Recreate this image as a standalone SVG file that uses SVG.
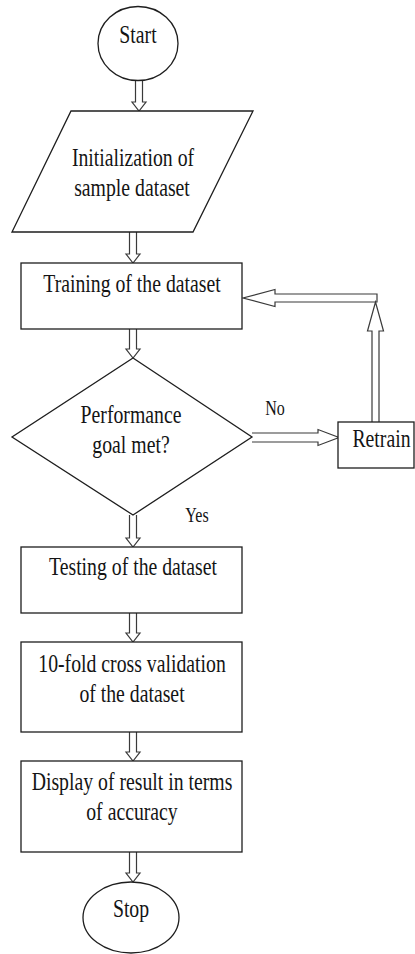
<svg xmlns="http://www.w3.org/2000/svg" width="415" height="954" viewBox="0 0 415 954">
  <style>
    .shape { fill: #ffffff; stroke: #1e1e1e; stroke-width: 1.3; }
    .conn { fill: #ffffff; stroke: #3a3a3a; stroke-width: 1.2; stroke-linejoin: miter; }
    .txt { font-family: "Liberation Serif", "Times New Roman", serif; font-size: 25px; fill: #141414; text-anchor: middle; }
    .lbl { font-family: "Liberation Serif", "Times New Roman", serif; font-size: 20px; fill: #141414; text-anchor: middle; }
  </style>
  <rect width="415" height="954" fill="#ffffff"/>

  <!-- hollow block arrows -->
  <g id="connectors">
    <path class="conn" d="M135.5,81 V102 H132 L139,111 L146,102 H142.5 V81"/>
    <path class="conn" d="M129.5,232 V254 H126 L133,263 L140,254 H136.5 V232"/>
    <path class="conn" d="M129.5,329 V349 H126 L133,358 L140,349 H136.5 V329"/>
    <path class="conn" d="M129.5,515 V538 H126 L133,547 L140,538 H136.5 V515"/>
    <path class="conn" d="M129.5,613 V633 H126 L133,642 L140,633 H136.5 V613"/>
    <path class="conn" d="M129.5,732 V752 H126 L133,761 L140,752 H136.5 V732"/>
    <path class="conn" d="M129.5,852 V873 H126 L133,882 L140,873 H136.5 V852"/>
    <!-- No branch to Retrain -->
    <path class="conn" d="M252,433 H318 V429.5 L339,437.5 L318,445.5 V442 H252"/>
    <!-- Retrain back up to Training -->
    <path class="conn" d="M377,302 V294 H275 V289.5 L243,298 L275,306.5 V302 Z"/>
    <path class="conn" d="M372,422 V331 H367.5 L375.5,302 L383.5,331 H379 V422"/>
  </g>

  <g id="start">
    <ellipse class="shape" cx="138" cy="43.5" rx="40" ry="37"/>
    <text class="txt" transform="translate(138,43) scale(0.79,1)">Start</text>
  </g>

  <g id="init">
    <polygon class="shape" points="71,111 253,111 193,232 12,232"/>
    <text class="txt" transform="translate(133,166) scale(0.79,1)">Initialization of</text>
    <text class="txt" transform="translate(132,196) scale(0.79,1)">sample dataset</text>
  </g>

  <g id="training">
    <rect class="shape" x="21" y="263" width="221" height="66"/>
    <text class="txt" transform="translate(132,292) scale(0.79,1)">Training of the dataset</text>
  </g>

  <g id="decision">
    <polygon class="shape" points="133,358 252,437 133,515 12,437"/>
    <text class="txt" transform="translate(131,423) scale(0.79,1)">Performance</text>
    <text class="txt" transform="translate(131,453) scale(0.79,1)">goal met?</text>
  </g>

  <g id="retrain">
    <rect class="shape" x="338" y="422" width="76" height="46"/>
    <text class="txt" transform="translate(381.5,447) scale(0.79,1)">Retrain</text>
  </g>

  <g id="labels">
    <text class="lbl" transform="translate(275,415) scale(0.8,1)">No</text>
    <text class="lbl" transform="translate(197,522) scale(0.8,1)">Yes</text>
  </g>

  <g id="testing">
    <rect class="shape" x="21" y="547" width="221" height="66"/>
    <text class="txt" transform="translate(133,575) scale(0.79,1)">Testing of the dataset</text>
  </g>

  <g id="crossval">
    <rect class="shape" x="21" y="642" width="221" height="90"/>
    <text class="txt" transform="translate(132,672) scale(0.79,1)">10-fold cross validation</text>
    <text class="txt" transform="translate(132,702) scale(0.79,1)">of the dataset</text>
  </g>

  <g id="display">
    <rect class="shape" x="21" y="761" width="221" height="91"/>
    <text class="txt" transform="translate(132,790) scale(0.79,1)">Display of result in terms</text>
    <text class="txt" transform="translate(132,820) scale(0.79,1)">of accuracy</text>
  </g>

  <g id="stop">
    <ellipse class="shape" cx="131" cy="917.5" rx="48" ry="35.5"/>
    <text class="txt" transform="translate(131,917) scale(0.79,1)">Stop</text>
  </g>
</svg>
